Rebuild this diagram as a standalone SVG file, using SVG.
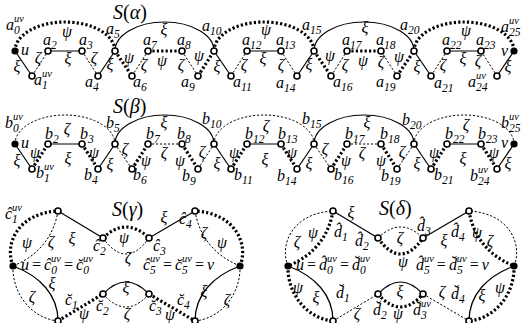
<svg xmlns="http://www.w3.org/2000/svg" width="526" height="323" viewBox="0 0 526 323">
<style>
.t{font-family:"Liberation Serif","Times New Roman",serif;font-style:italic;font-size:16px;fill:#000}
.m{text-anchor:middle}
.sb{font-size:11.5px}
.sp{font-size:10.5px}
.up{font-style:normal}
.h{font-size:20px}
.x{fill:none;stroke:#000;stroke-width:1.2}
.p{fill:none;stroke:#000;stroke-width:3.2;stroke-dasharray:2.2 2.2}
.z{fill:none;stroke:#000;stroke-width:1;stroke-dasharray:2.2 1.8}
.o{fill:#fff;stroke:#000;stroke-width:1.6}
.f{fill:#000}
</style>
<rect width="526" height="323" fill="#fff"/>
<g id="connectors">
<path class="x" d="M15,51 L32,76"/><path class="z" d="M32,76 L48,51"/><path class="x" d="M48,51 L82,51"/><path class="z" d="M82,51 L98,76"/><path class="x" d="M98,76 L115,51"/><path class="p" d="M15,51 A50,29 0 0 1 115,51"/>
<path class="p" d="M115,51 L132,76"/><path class="z" d="M132,76 L148,51"/><path class="p" d="M148,51 L182,51"/><path class="z" d="M182,51 L198,76"/><path class="p" d="M198,76 L214,51"/><path class="x" d="M115,51 A49.5,29 0 0 1 214,51"/>
<path class="x" d="M214,51 L231,76"/><path class="z" d="M231,76 L247,51"/><path class="x" d="M247,51 L281,51"/><path class="z" d="M281,51 L297,76"/><path class="x" d="M297,76 L314,51"/><path class="p" d="M214,51 A50,29 0 0 1 314,51"/>
<path class="p" d="M314,51 L331,76"/><path class="z" d="M331,76 L347,51"/><path class="p" d="M347,51 L381,51"/><path class="z" d="M381,51 L397,76"/><path class="p" d="M397,76 L414,51"/><path class="x" d="M314,51 A50,29 0 0 1 414,51"/>
<path class="x" d="M414,51 L431,76"/><path class="z" d="M431,76 L447,51"/><path class="x" d="M447,51 L481,51"/><path class="z" d="M481,51 L497,76"/><path class="x" d="M497,76 L514,51"/><path class="p" d="M414,51 A50,29 0 0 1 514,51"/>
<path class="x" d="M15,144 L32,169"/><path class="p" d="M32,169 L48,144"/><path class="x" d="M48,144 L82,144"/><path class="p" d="M82,144 L98,169"/><path class="x" d="M98,169 L115,144"/><path class="z" d="M15,144 A50,29 0 0 1 115,144"/>
<path class="z" d="M115,144 L132,169"/><path class="p" d="M132,169 L148,144"/><path class="z" d="M148,144 L182,144"/><path class="p" d="M182,144 L198,169"/><path class="z" d="M198,169 L214,144"/><path class="x" d="M115,144 A49.5,29 0 0 1 214,144"/>
<path class="x" d="M214,144 L231,169"/><path class="p" d="M231,169 L247,144"/><path class="x" d="M247,144 L281,144"/><path class="p" d="M281,144 L297,169"/><path class="x" d="M297,169 L314,144"/><path class="z" d="M214,144 A50,29 0 0 1 314,144"/>
<path class="z" d="M314,144 L331,169"/><path class="p" d="M331,169 L347,144"/><path class="z" d="M347,144 L381,144"/><path class="p" d="M381,144 L397,169"/><path class="z" d="M397,169 L414,144"/><path class="x" d="M314,144 A50,29 0 0 1 414,144"/>
<path class="x" d="M414,144 L431,169"/><path class="p" d="M431,169 L447,144"/><path class="x" d="M447,144 L481,144"/><path class="p" d="M481,144 L497,169"/><path class="x" d="M497,169 L514,144"/><path class="z" d="M414,144 A50,29 0 0 1 514,144"/>
<path class="p" d="M13,266 C4,244 18,213 58,211"/>
<path class="z" d="M58,211 C54,235 40,255 13,266"/>
<path class="x" d="M58,211 L103,238"/>
<path class="p" d="M103,238 Q126,216 149,238"/>
<path class="z" d="M103,238 Q126,270 149,238"/>
<path class="x" d="M149,238 L195,211"/>
<path class="p" d="M240,266 C249,244 235,213 195,211"/>
<path class="z" d="M195,211 C199,235 213,255 240,266"/>
<path class="x" d="M13,266 C40,276 58,295 58,321"/>
<path class="z" d="M13,266 C12,292 30,318 58,321"/>
<path class="p" d="M58,321 L103,294"/>
<path class="x" d="M103,294 Q126,270 149,294"/>
<path class="z" d="M103,294 Q126,320 149,294"/>
<path class="p" d="M149,294 L195,321"/>
<path class="x" d="M240,266 C213,276 195,295 195,321"/>
<path class="z" d="M240,266 C241,292 223,318 195,321"/>
<path class="z" d="M288,266 C279,244 293,213 333,211"/>
<path class="p" d="M333,211 C329,235 315,255 288,266"/>
<path class="x" d="M333,211 L378,238"/>
<path class="z" d="M378,238 Q400.5,216 423,238"/>
<path class="p" d="M378,238 Q400.5,270 423,238"/>
<path class="x" d="M423,238 L469,211"/>
<path class="z" d="M514,266 C523,244 509,213 469,211"/>
<path class="p" d="M469,211 C473,235 487,255 514,266"/>
<path class="x" d="M288,266 C315,276 333,295 333,321"/>
<path class="p" d="M288,266 C287,292 305,318 333,321"/>
<path class="z" d="M333,321 L378,294"/>
<path class="x" d="M378,294 Q400.5,270 423,294"/>
<path class="p" d="M378,294 Q400.5,320 423,294"/>
<path class="z" d="M423,294 L469,321"/>
<path class="x" d="M514,266 C487,276 469,295 469,321"/>
<path class="p" d="M514,266 C515,292 497,318 469,321"/>
</g>
<g id="edge-labels" class="t m">
<text x="17" y="72">ξ</text><text x="38" y="63">ζ</text><text x="67" y="37">ψ</text><text x="68" y="64">ξ</text><text x="94" y="63">ζ</text><text x="110" y="70">ξ</text>
<text x="164" y="35">ξ</text><text x="129" y="63">ψ</text><text x="144" y="70">ζ</text><text x="162" y="66">ψ</text><text x="181" y="70">ζ</text><text x="199" y="61">ψ</text>
<text x="217" y="72">ξ</text><text x="244" y="70">ζ</text><text x="266" y="35">ψ</text><text x="263" y="64">ξ</text><text x="281" y="70">ζ</text><text x="309" y="70">ξ</text>
<text x="330" y="61">ψ</text><text x="345" y="70">ζ</text><text x="365" y="33">ξ</text><text x="363" y="66">ψ</text><text x="381" y="67">ζ</text><text x="399" y="62">ψ</text>
<text x="466" y="36">ψ</text><text x="417" y="72">ξ</text><text x="443" y="70">ζ</text><text x="463" y="64">ξ</text><text x="478" y="66">ζ</text><text x="508" y="72">ξ</text>
<text x="17" y="166">ξ</text><text x="35" y="158">ψ</text><text x="67" y="134">ζ</text><text x="68" y="164">ξ</text><text x="94" y="158">ψ</text><text x="110" y="170">ξ</text>
<text x="164" y="128">ξ</text><text x="125" y="154">ζ</text><text x="146" y="166">ψ</text><text x="164" y="158">ζ</text><text x="180" y="166">ψ</text><text x="202" y="157">ζ</text>
<text x="217" y="169">ξ</text><text x="234" y="158">ψ</text><text x="266" y="131">ζ</text><text x="265" y="165">ξ</text><text x="292" y="158">ψ</text><text x="309" y="169">ξ</text>
<text x="325" y="154">ζ</text><text x="346" y="166">ψ</text><text x="367" y="128">ξ</text><text x="362" y="158">ζ</text><text x="381" y="166">ψ</text><text x="402" y="157">ζ</text>
<text x="466" y="130">ζ</text><text x="417" y="169">ξ</text><text x="434" y="158">ψ</text><text x="463" y="164">ξ</text><text x="494" y="158">ψ</text><text x="508" y="169">ξ</text>
<text x="27" y="248">ψ</text><text x="51" y="247">ζ</text><text x="72" y="244">ξ</text><text x="124" y="243">ψ</text><text x="128" y="263">ζ</text><text x="164" y="223">ξ</text><text x="204" y="238">ζ</text><text x="222" y="248">ψ</text>
<text x="52" y="289">ξ</text><text x="32" y="302">ζ</text><text x="84" y="319">ψ</text><text x="126" y="293">ξ</text><text x="127" y="319">ζ</text><text x="170" y="320">ψ</text><text x="204" y="297">ξ</text><text x="227" y="305">ζ</text>
<text x="351" y="218">ξ</text><text x="297" y="247">ζ</text><text x="313" y="238">ψ</text><text x="400" y="243">ζ</text><text x="403" y="267">ψ</text><text x="444" y="246">ξ</text><text x="477" y="238">ψ</text><text x="490" y="246">ζ</text>
<text x="298" y="293">ψ</text><text x="316" y="303">ξ</text><text x="357" y="319">ζ</text><text x="400" y="297">ξ</text><text x="398" y="319">ψ</text><text x="442" y="297">ζ</text><text x="482" y="301">ξ</text><text x="500" y="293">ψ</text>
</g>
<g id="titles" class="t h">
<text x="113" y="19">S<tspan class="up">(</tspan>α<tspan class="up">)</tspan></text>
<text x="113" y="113">S<tspan class="up">(</tspan>β<tspan class="up">)</tspan></text>
<text x="112" y="216">S<tspan class="up">(</tspan>γ<tspan class="up">)</tspan></text>
<text x="379" y="215">S<tspan class="up">(</tspan>δ<tspan class="up">)</tspan></text>
</g>
<g id="a0"><circle class="f" cx="15" cy="51" r="3.6"/><text class="t" x="6" y="30">a<tspan class="sb" dy="4">0</tspan><tspan class="sp" dx="-5.8" dy="-12">uv</tspan></text><text class="t" x="21" y="55">u</text></g>
<g id="a1"><circle class="o" cx="32" cy="76" r="3"/><text class="t" x="34" y="85">a<tspan class="sb" dy="4">1</tspan><tspan class="sp" dx="-5.8" dy="-12">uv</tspan></text></g>
<g id="a2"><circle class="o" cx="48" cy="51" r="3"/><text class="t" x="43" y="45">a<tspan class="sb" dy="4">2</tspan></text></g>
<g id="a3"><circle class="o" cx="82" cy="51" r="3"/><text class="t" x="79" y="45">a<tspan class="sb" dy="4">3</tspan></text></g>
<g id="a4"><circle class="o" cx="98" cy="76" r="3"/><text class="t" x="85" y="87">a<tspan class="sb" dy="4">4</tspan></text></g>
<g id="a5"><circle class="o" cx="115" cy="51" r="3"/><text class="t" x="106" y="34">a<tspan class="sb" dy="4">5</tspan></text></g>
<g id="a6"><circle class="o" cx="132" cy="76" r="3"/><text class="t" x="133" y="87">a<tspan class="sb" dy="4">6</tspan></text></g>
<g id="a7"><circle class="o" cx="148" cy="51" r="3"/><text class="t" x="143" y="45">a<tspan class="sb" dy="4">7</tspan></text></g>
<g id="a8"><circle class="o" cx="182" cy="51" r="3"/><text class="t" x="177" y="45">a<tspan class="sb" dy="4">8</tspan></text></g>
<g id="a9"><circle class="o" cx="198" cy="76" r="3"/><text class="t" x="181" y="87">a<tspan class="sb" dy="4">9</tspan></text></g>
<g id="a10"><circle class="o" cx="214" cy="51" r="3"/><text class="t" x="202" y="31">a<tspan class="sb" dy="4">10</tspan></text></g>
<g id="a11"><circle class="o" cx="231" cy="76" r="3"/><text class="t" x="233" y="87">a<tspan class="sb" dy="4">11</tspan></text></g>
<g id="a12"><circle class="o" cx="247" cy="51" r="3"/><text class="t" x="242" y="45">a<tspan class="sb" dy="4">12</tspan></text></g>
<g id="a13"><circle class="o" cx="281" cy="51" r="3"/><text class="t" x="276" y="45">a<tspan class="sb" dy="4">13</tspan></text></g>
<g id="a14"><circle class="o" cx="297" cy="76" r="3"/><text class="t" x="276" y="88">a<tspan class="sb" dy="4">14</tspan></text></g>
<g id="a15"><circle class="o" cx="314" cy="51" r="3"/><text class="t" x="302" y="30">a<tspan class="sb" dy="4">15</tspan></text></g>
<g id="a16"><circle class="o" cx="331" cy="76" r="3"/><text class="t" x="333" y="87">a<tspan class="sb" dy="4">16</tspan></text></g>
<g id="a17"><circle class="o" cx="347" cy="51" r="3"/><text class="t" x="342" y="45">a<tspan class="sb" dy="4">17</tspan></text></g>
<g id="a18"><circle class="o" cx="381" cy="51" r="3"/><text class="t" x="376" y="45">a<tspan class="sb" dy="4">18</tspan></text></g>
<g id="a19"><circle class="o" cx="397" cy="76" r="3"/><text class="t" x="376" y="87">a<tspan class="sb" dy="4">19</tspan></text></g>
<g id="a20"><circle class="o" cx="414" cy="51" r="3"/><text class="t" x="400" y="30">a<tspan class="sb" dy="4">20</tspan></text></g>
<g id="a21"><circle class="o" cx="431" cy="76" r="3"/><text class="t" x="434" y="88">a<tspan class="sb" dy="4">21</tspan></text></g>
<g id="a22"><circle class="o" cx="447" cy="51" r="3"/><text class="t" x="442" y="45">a<tspan class="sb" dy="4">22</tspan></text></g>
<g id="a23"><circle class="o" cx="481" cy="51" r="3"/><text class="t" x="476" y="45">a<tspan class="sb" dy="4">23</tspan></text></g>
<g id="a24"><circle class="o" cx="497" cy="76" r="3"/><text class="t" x="468" y="87">a<tspan class="sb" dy="4">24</tspan><tspan class="sp" dx="-11.5" dy="-12">uv</tspan></text></g>
<g id="a25"><circle class="f" cx="514" cy="51" r="3.6"/><text class="t" x="501" y="32">a<tspan class="sb" dy="4">25</tspan><tspan class="sp" dx="-11.5" dy="-12">uv</tspan></text><text class="t" x="501" y="56">v</text></g>
<g id="b0"><circle class="f" cx="15" cy="144" r="3.6"/><text class="t" x="5" y="128">b<tspan class="sb" dy="4">0</tspan><tspan class="sp" dx="-5.8" dy="-12">uv</tspan></text><text class="t" x="21" y="148">u</text></g>
<g id="b1"><circle class="o" cx="32" cy="169" r="3"/><text class="t" x="36" y="178">b<tspan class="sb" dy="4">1</tspan><tspan class="sp" dx="-5.8" dy="-12">uv</tspan></text></g>
<g id="b2"><circle class="o" cx="48" cy="144" r="3"/><text class="t" x="45" y="139">b<tspan class="sb" dy="4">2</tspan></text></g>
<g id="b3"><circle class="o" cx="82" cy="144" r="3"/><text class="t" x="80" y="139">b<tspan class="sb" dy="4">3</tspan></text></g>
<g id="b4"><circle class="o" cx="98" cy="169" r="3"/><text class="t" x="84" y="180">b<tspan class="sb" dy="4">4</tspan></text></g>
<g id="b5"><circle class="o" cx="115" cy="144" r="3"/><text class="t" x="106" y="128">b<tspan class="sb" dy="4">5</tspan></text></g>
<g id="b6"><circle class="o" cx="132" cy="169" r="3"/><text class="t" x="133" y="180">b<tspan class="sb" dy="4">6</tspan></text></g>
<g id="b7"><circle class="o" cx="148" cy="144" r="3"/><text class="t" x="146" y="139">b<tspan class="sb" dy="4">7</tspan></text></g>
<g id="b8"><circle class="o" cx="182" cy="144" r="3"/><text class="t" x="177" y="139">b<tspan class="sb" dy="4">8</tspan></text></g>
<g id="b9"><circle class="o" cx="198" cy="169" r="3"/><text class="t" x="182" y="181">b<tspan class="sb" dy="4">9</tspan></text></g>
<g id="b10"><circle class="o" cx="214" cy="144" r="3"/><text class="t" x="202" y="124">b<tspan class="sb" dy="4">10</tspan></text></g>
<g id="b11"><circle class="o" cx="231" cy="169" r="3"/><text class="t" x="234" y="180">b<tspan class="sb" dy="4">11</tspan></text></g>
<g id="b12"><circle class="o" cx="247" cy="144" r="3"/><text class="t" x="245" y="139">b<tspan class="sb" dy="4">12</tspan></text></g>
<g id="b13"><circle class="o" cx="281" cy="144" r="3"/><text class="t" x="278" y="139">b<tspan class="sb" dy="4">13</tspan></text></g>
<g id="b14"><circle class="o" cx="297" cy="169" r="3"/><text class="t" x="277" y="181">b<tspan class="sb" dy="4">14</tspan></text></g>
<g id="b15"><circle class="o" cx="314" cy="144" r="3"/><text class="t" x="302" y="124">b<tspan class="sb" dy="4">15</tspan></text></g>
<g id="b16"><circle class="o" cx="331" cy="169" r="3"/><text class="t" x="334" y="180">b<tspan class="sb" dy="4">16</tspan></text></g>
<g id="b17"><circle class="o" cx="347" cy="144" r="3"/><text class="t" x="345" y="139">b<tspan class="sb" dy="4">17</tspan></text></g>
<g id="b18"><circle class="o" cx="381" cy="144" r="3"/><text class="t" x="380" y="139">b<tspan class="sb" dy="4">18</tspan></text></g>
<g id="b19"><circle class="o" cx="397" cy="169" r="3"/><text class="t" x="381" y="181">b<tspan class="sb" dy="4">19</tspan></text></g>
<g id="b20"><circle class="o" cx="414" cy="144" r="3"/><text class="t" x="402" y="125">b<tspan class="sb" dy="4">20</tspan></text></g>
<g id="b21"><circle class="o" cx="431" cy="169" r="3"/><text class="t" x="434" y="180">b<tspan class="sb" dy="4">21</tspan></text></g>
<g id="b22"><circle class="o" cx="447" cy="144" r="3"/><text class="t" x="445" y="139">b<tspan class="sb" dy="4">22</tspan></text></g>
<g id="b23"><circle class="o" cx="481" cy="144" r="3"/><text class="t" x="478" y="139">b<tspan class="sb" dy="4">23</tspan></text></g>
<g id="b24"><circle class="o" cx="497" cy="169" r="3"/><text class="t" x="470" y="181">b<tspan class="sb" dy="4">24</tspan><tspan class="sp" dx="-11.5" dy="-12">uv</tspan></text></g>
<g id="b25"><circle class="f" cx="514" cy="144" r="3.6"/><text class="t" x="501" y="128">b<tspan class="sb" dy="4">25</tspan><tspan class="sp" dx="-11.5" dy="-12">uv</tspan></text><text class="t" x="501" y="148">v</text></g>
<g id="gu"><circle class="f" cx="13" cy="266" r="3.6"/><text class="t" x="21" y="270">u<tspan class="up" dx="3">=</tspan><tspan dx="3">ĉ</tspan><tspan class="sb" dy="4">0</tspan><tspan class="sp" dx="-5.8" dy="-12">uv</tspan><tspan class="up" dx="3" dy="8">=</tspan><tspan dx="3">c&#x306;</tspan><tspan class="sb" dy="4">0</tspan><tspan class="sp" dx="-5.8" dy="-12">uv</tspan></text></g>
<g id="gc1"><circle class="o" cx="58" cy="211" r="3"/><text class="t" x="5" y="219">ĉ<tspan class="sb" dy="4">1</tspan><tspan class="sp" dx="-5.8" dy="-12">uv</tspan></text></g>
<g id="gc2"><circle class="o" cx="103" cy="238" r="3"/><text class="t" x="93" y="251">ĉ<tspan class="sb" dy="4">2</tspan></text></g>
<g id="gc3"><circle class="o" cx="149" cy="238" r="3"/><text class="t" x="153" y="251">ĉ<tspan class="sb" dy="4">3</tspan></text></g>
<g id="gc4"><circle class="o" cx="195" cy="211" r="3"/><text class="t" x="179" y="224">ĉ<tspan class="sb" dy="4">4</tspan></text></g>
<g id="gv"><circle class="f" cx="240" cy="266" r="3.6"/><text class="t" x="143" y="270">ĉ<tspan class="sb" dy="4">5</tspan><tspan class="sp" dx="-5.8" dy="-12">uv</tspan><tspan class="up" dx="3" dy="8">=</tspan><tspan dx="3">c&#x306;</tspan><tspan class="sb" dy="4">5</tspan><tspan class="sp" dx="-5.8" dy="-12">uv</tspan><tspan class="up" dx="3" dy="8">=</tspan><tspan dx="3">v</tspan></text></g>
<g id="gk1"><circle class="o" cx="58" cy="321" r="3"/><text class="t" x="65" y="305">c&#x306;<tspan class="sb" dy="4">1</tspan></text></g>
<g id="gk2"><circle class="o" cx="103" cy="294" r="3"/><text class="t" x="96" y="311">c&#x306;<tspan class="sb" dy="4">2</tspan></text></g>
<g id="gk3"><circle class="o" cx="149" cy="294" r="3"/><text class="t" x="149" y="311">c&#x306;<tspan class="sb" dy="4">3</tspan></text></g>
<g id="gk4"><circle class="o" cx="195" cy="321" r="3"/><text class="t" x="177" y="305">c&#x306;<tspan class="sb" dy="4">4</tspan></text></g>
<g id="du"><circle class="f" cx="288" cy="266" r="3.6"/><text class="t" x="296" y="270">u<tspan class="up" dx="3">=</tspan><tspan dx="3">d&#x302;</tspan><tspan class="sb" dy="4">0</tspan><tspan class="sp" dx="-5.8" dy="-12">uv</tspan><tspan class="up" dx="3" dy="8">=</tspan><tspan dx="3">d&#x306;</tspan><tspan class="sb" dy="4">0</tspan><tspan class="sp" dx="-5.8" dy="-12">uv</tspan></text></g>
<g id="dh1"><circle class="o" cx="333" cy="211" r="3"/><text class="t" x="334" y="237">d&#x302;<tspan class="sb" dy="4">1</tspan></text></g>
<g id="dh2"><circle class="o" cx="378" cy="238" r="3"/><text class="t" x="355" y="246">d&#x302;<tspan class="sb" dy="4">2</tspan></text></g>
<g id="dh3"><circle class="o" cx="423" cy="238" r="3"/><text class="t" x="417" y="231">d&#x302;<tspan class="sb" dy="4">3</tspan></text></g>
<g id="dh4"><circle class="o" cx="469" cy="211" r="3"/><text class="t" x="451" y="237">d&#x302;<tspan class="sb" dy="4">4</tspan></text></g>
<g id="dv"><circle class="f" cx="514" cy="266" r="3.6"/><text class="t" x="416" y="270">d&#x302;<tspan class="sb" dy="4">5</tspan><tspan class="sp" dx="-5.8" dy="-12">uv</tspan><tspan class="up" dx="3" dy="8">=</tspan><tspan dx="3">d&#x306;</tspan><tspan class="sb" dy="4">5</tspan><tspan class="sp" dx="-5.8" dy="-12">uv</tspan><tspan class="up" dx="3" dy="8">=</tspan><tspan dx="3">v</tspan></text></g>
<g id="dk1"><circle class="o" cx="333" cy="321" r="3"/><text class="t" x="336" y="298">d&#x306;<tspan class="sb" dy="4">1</tspan></text></g>
<g id="dk2"><circle class="o" cx="378" cy="294" r="3"/><text class="t" x="373" y="315">d&#x306;<tspan class="sb" dy="4">2</tspan></text></g>
<g id="dk3"><circle class="o" cx="423" cy="294" r="3"/><text class="t" x="413" y="315">d&#x306;<tspan class="sb" dy="4">3</tspan><tspan class="sp" dx="-5.8" dy="-12">uv</tspan></text></g>
<g id="dk4"><circle class="o" cx="469" cy="321" r="3"/><text class="t" x="451" y="299">d&#x306;<tspan class="sb" dy="4">4</tspan></text></g>
</svg>
